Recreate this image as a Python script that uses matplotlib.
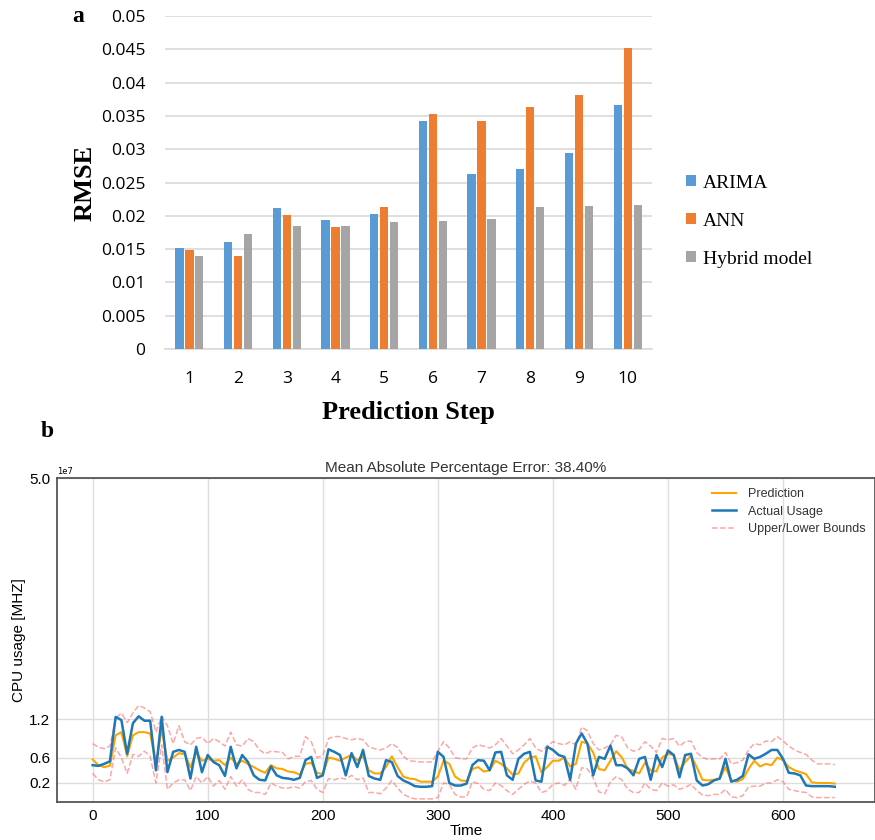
import matplotlib.pyplot as plt
import numpy as np

# ---- panel a : RMSE per prediction step ----
steps = [1, 2, 3, 4, 5, 6, 7, 8, 9, 10]
rmse_arima = [0.0152, 0.0160, 0.0212, 0.0193, 0.0202, 0.0342, 0.0263, 0.0271, 0.0295, 0.0366]
rmse_ann = [0.0148, 0.0140, 0.0201, 0.0183, 0.0213, 0.0353, 0.0342, 0.0363, 0.0381, 0.0452]
rmse_hybrid = [0.0140, 0.0172, 0.0184, 0.0185, 0.0191, 0.0192, 0.0195, 0.0213, 0.0215, 0.0217]

# ---- panel b : CPU usage forecast (units of 1e7 MHz), sampled every 5 steps ----
t_step = 5
actual = [0.48, 0.47, 0.50, 0.54, 1.24, 1.19, 0.66, 1.14, 1.25, 1.18, 1.18, 0.40, 1.24, 0.37, 0.69, 0.72,
          0.69, 0.27, 0.77, 0.37, 0.64, 0.53, 0.48, 0.31, 0.77, 0.43, 0.64, 0.53, 0.32, 0.25, 0.24,
          0.46, 0.32, 0.28, 0.27, 0.25, 0.28, 0.56, 0.61, 0.28, 0.32, 0.73, 0.69, 0.64, 0.32, 0.67, 0.45,
          0.72, 0.31, 0.27, 0.25, 0.56, 0.53, 0.31, 0.24, 0.20, 0.15, 0.14, 0.14, 0.15, 0.69, 0.61, 0.20,
          0.16, 0.16, 0.19,
          0.48, 0.56, 0.55, 0.40, 0.68, 0.69, 0.32, 0.25, 0.58, 0.66, 0.69, 0.24, 0.22, 0.77, 0.72, 0.64,
          0.61, 0.25, 0.82, 0.98, 0.82, 0.32, 0.61, 0.58, 0.79, 0.48, 0.48, 0.43, 0.32, 0.58, 0.61, 0.25,
          0.64, 0.45,
          0.71, 0.64, 0.29, 0.64, 0.66, 0.24, 0.16, 0.18, 0.24, 0.27, 0.58, 0.22, 0.25, 0.31, 0.65, 0.58,
          0.61, 0.66, 0.72, 0.72, 0.58, 0.36, 0.35, 0.32, 0.16, 0.15, 0.15, 0.15, 0.15, 0.14]
prediction = [0.57, 0.48, 0.45, 0.47, 0.95, 1.00, 0.62, 0.95, 1.00, 1.00, 0.98, 0.50, 1.05, 0.55, 0.60, 0.67,
              0.65, 0.45, 0.68, 0.55, 0.58, 0.55, 0.56, 0.48, 0.60, 0.50, 0.55, 0.50, 0.45, 0.40, 0.36,
              0.48, 0.43, 0.42, 0.38, 0.37, 0.33, 0.50, 0.52, 0.36, 0.34, 0.60, 0.58, 0.55, 0.60, 0.64, 0.56,
              0.62, 0.40, 0.35, 0.35, 0.45, 0.62, 0.45, 0.30, 0.27, 0.26, 0.22, 0.22, 0.22, 0.30, 0.55, 0.50,
              0.30, 0.24, 0.23,
              0.42, 0.45, 0.38, 0.40, 0.55, 0.50, 0.43, 0.33, 0.35, 0.52, 0.60, 0.62, 0.37, 0.45, 0.55, 0.55,
              0.60, 0.46, 0.50, 0.85, 0.82, 0.68, 0.42, 0.40, 0.55, 0.70, 0.60, 0.42, 0.39, 0.35, 0.52, 0.40,
              0.38, 0.60,
              0.66, 0.64, 0.40, 0.53, 0.63, 0.45, 0.25, 0.24, 0.25, 0.27, 0.45, 0.24, 0.22, 0.26, 0.42, 0.55,
              0.46, 0.50, 0.48, 0.60, 0.56, 0.45, 0.40, 0.37, 0.34, 0.21, 0.20, 0.20, 0.20, 0.19]
upper = [0.82, 0.76, 0.74, 0.78, 1.22, 1.30, 1.15, 1.30, 1.42, 1.38, 1.32, 1.00, 1.25, 1.10, 0.82, 1.10,
         0.85, 0.80, 0.90, 0.92, 0.82, 0.90, 0.85, 0.78, 1.00, 0.80, 0.78, 0.90, 0.85, 0.72, 0.66,
         0.70, 0.69, 0.68, 0.58, 0.62, 0.62, 0.93, 0.85, 0.60, 0.63, 0.90, 0.93, 0.93, 0.90, 0.88, 0.90,
         0.88, 0.77, 0.74, 0.72, 0.75, 0.82, 0.76, 0.62, 0.55, 0.54, 0.53, 0.53, 0.53, 0.70, 0.85, 0.75,
         0.60, 0.58, 0.58,
         0.75, 0.80, 0.78, 0.75, 0.80, 0.90, 0.78, 0.66, 0.72, 0.80, 0.90, 0.75, 0.70, 0.78, 0.85, 0.82,
         0.80, 0.85, 0.80, 1.08, 1.02, 0.82, 0.72, 0.75, 0.80, 0.95, 0.92, 0.75, 0.70, 0.73, 0.85, 0.78,
         0.68, 0.90,
         0.88, 0.90, 0.78, 0.85, 0.86, 0.68, 0.60, 0.57, 0.58, 0.58, 0.68, 0.50, 0.52, 0.56, 0.72, 0.82,
         0.80, 0.86, 0.85, 0.93, 0.86, 0.78, 0.72, 0.68, 0.65, 0.56, 0.50, 0.50, 0.50, 0.49]
lower = [0.35, 0.25, 0.22, 0.25, 0.75, 0.60, 0.35, 0.65, 0.62, 0.70, 0.62, 0.20, 0.80, 0.10, 0.20, 0.25,
         0.25, 0.08, 0.30, 0.20, 0.30, 0.15, 0.24, 0.10, 0.30, 0.15, 0.25, 0.10, 0.05, 0.05, 0.02,
         0.20, 0.15, 0.12, 0.12, 0.14, 0.12, 0.22, 0.24, 0.10, 0.05, 0.27, 0.25, 0.28, 0.26, 0.32, 0.25,
         0.28, 0.05, 0.05, 0.03, 0.12, 0.24, 0.12, 0.02, -0.02, -0.05, -0.05, -0.05, -0.05, -0.03, 0.20, 0.18,
         0.02, -0.02, -0.02,
         0.22, 0.19, 0.10, 0.08, 0.20, 0.16, 0.08, 0.02, 0.10, 0.18, 0.23, 0.20, 0.05, 0.08, 0.18, 0.20,
         0.16, 0.25, 0.10, 0.44, 0.42, 0.28, 0.06, 0.03, 0.22, 0.30, 0.25, 0.10, 0.05, 0.05, 0.20, 0.10,
         0.08, 0.20,
         0.15, 0.17, 0.10, 0.13, 0.18, 0.08, 0.01, 0.00, 0.02, 0.02, 0.10, -0.02, -0.03, 0.00, 0.14, 0.15,
         0.15, 0.20, 0.20, 0.25, 0.22, 0.10, 0.08, 0.06, 0.05, -0.02, -0.03, -0.03, -0.03, -0.03]
cpu_ticks = [0.2, 0.6, 1.2, 5.0]
mape = 38.40

fig = plt.figure(figsize=(8.75, 8.4), dpi=100)
serif = 'Liberation Serif'

# panel a
ax1 = fig.add_axes([0.1886, 0.5845, 0.5566, 0.3964])
x = np.array(steps)
w = 0.17
ax1.bar(x - 0.205, rmse_arima, w, color='#5B9BD5', label='ARIMA', zorder=3)
ax1.bar(x, rmse_ann, w, color='#ED7D31', label='ANN', zorder=3)
ax1.bar(x + 0.205, rmse_hybrid, w, color='#A5A5A5', label='Hybrid model', zorder=3)
ax1.set_xlim(0.5, 10.5)
ax1.set_ylim(0, 0.05)
ax1.set_yticks(np.arange(0, 0.0501, 0.005))
ax1.set_yticklabels(['0', '0.005', '0.01', '0.015', '0.02', '0.025', '0.03', '0.035', '0.04', '0.045', '0.05'])
ax1.set_xticks(steps)
ax1.tick_params(length=0, labelsize=12.5)
ax1.tick_params(axis='y', pad=14)
ax1.tick_params(axis='x', pad=16)
for lab in ax1.get_xticklabels() + ax1.get_yticklabels():
    lab.set_family('Open Sans')
ax1.grid(axis='y', color='#d9d9d9', linewidth=1.2, zorder=0)
for s in ['top', 'right', 'left']:
    ax1.spines[s].set_visible(False)
ax1.spines['bottom'].set_color('#d9d9d9')
ax1.spines['bottom'].set_linewidth(1.2)
ax1.set_ylabel('RMSE', family=serif, fontweight='bold', fontsize=19, labelpad=3)
ax1.set_xlabel('Prediction Step', family=serif, fontweight='bold', fontsize=19, labelpad=10)
fig.legend(*ax1.get_legend_handles_labels(), loc='center left',
           bbox_to_anchor=(686 / 875, 1 - 221 / 840), frameon=False,
           prop={'family': serif, 'size': 14}, handlelength=0.52, handleheight=0.52,
           handletextpad=0.35, labelspacing=1.08, borderpad=0, borderaxespad=0)
fig.text(0.089, 0.98, 'a', family=serif, fontweight='bold', fontsize=17, ha='center', va='center')
fig.text(0.054, 0.486, 'b', family=serif, fontweight='bold', fontsize=17, ha='center', va='center')

# panel b
t = np.arange(len(actual)) * t_step
scale = 1e7
ax2 = fig.add_axes([0.0651, 0.0452, 0.935, 0.3857])
ax2.plot(t, np.array(prediction) * scale, color='orange', linewidth=1.5, label='Prediction', zorder=3)
ax2.plot(t, np.array(actual) * scale, color='#1f77b4', linewidth=1.8, label='Actual Usage', zorder=4)
ax2.plot(t, np.array(upper) * scale, color='#ff6b6b', alpha=0.6, linestyle='--', linewidth=1.1,
         label='Upper/Lower Bounds', zorder=2)
ax2.plot(t, np.array(lower) * scale, color='#ff6b6b', alpha=0.6, linestyle='--', linewidth=1.1, zorder=2)
ax2.set_xlim(-31, 680)
ax2.set_ylim(-0.1 * scale, 5.0 * scale)
ax2.set_yticks([v * scale for v in cpu_ticks])
ax2.set_xticks([0, 100, 200, 300, 400, 500, 600])
ax2.grid(color='#dddddd', linewidth=1.0, zorder=0)
ax2.tick_params(length=0, labelsize=11, pad=5)
for lab in ax2.get_xticklabels() + ax2.get_yticklabels():
    lab.set_family('Liberation Sans')
ax2.yaxis.get_offset_text().set_fontsize(6)
for s in ['top', 'left', 'bottom', 'right']:
    ax2.spines[s].set_color('#555555')
    ax2.spines[s].set_linewidth(1.3)
ax2.set_title('Mean Absolute Percentage Error: %.2f%%' % mape, family='Liberation Sans',
              fontsize=11, color='#333333', pad=4)
ax2.set_xlabel('Time', family='Liberation Sans', fontsize=11, labelpad=1)
ax2.set_ylabel('CPU usage [MHZ]', family='Liberation Sans', fontsize=11, labelpad=2)
leg = ax2.legend(loc='upper right', bbox_to_anchor=(866 / 875, 1 - 488 / 840),
                 bbox_transform=fig.transFigure, frameon=False, borderpad=0, borderaxespad=0,
                 prop={'family': 'Liberation Sans', 'size': 9}, handlelength=1.9,
                 handletextpad=1.0, labelspacing=0.45)
for txt in leg.get_texts():
    txt.set_color('#333333')

plt.savefig('out.png', dpi=100)
